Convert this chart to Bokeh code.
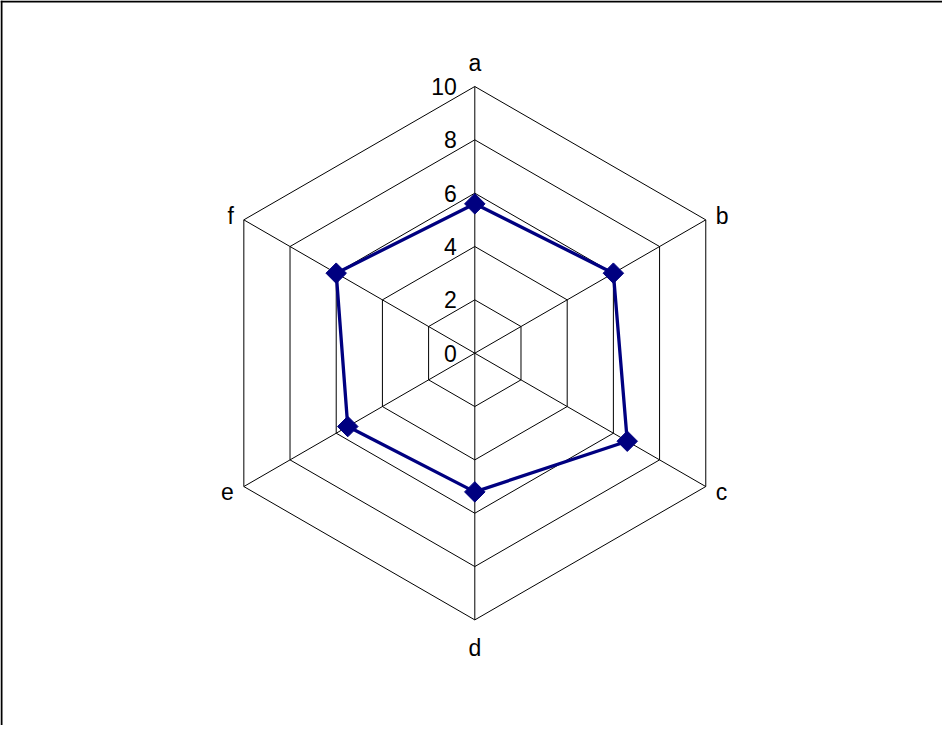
import numpy as np
from bokeh.plotting import figure
from bokeh.models import ColumnDataSource, Span
from bokeh.core.properties import value
from bokeh.embed import file_html
from bokeh.resources import INLINE

# ---- data ----
categories = ["a", "b", "c", "d", "e", "f"]
series_values = [5.6, 6.0, 6.6, 5.2, 5.5, 6.0]
ring_ticks = [0, 2, 4, 6, 8, 10]
tick_labels = ["0", "2", "4", "6", "8", "10"]
max_value = 10

# ---- geometry (angles clockwise from top) ----
n = len(categories)
theta = np.pi / 2 - np.arange(n) * 2 * np.pi / n
cx, sy = np.cos(theta), np.sin(theta)

FONT = value("Liberation Sans")
FS = "23px"
px_per_unit = 26.67
W, H = 942, 725
cx_px, cy_px = 474.3, 352.7
x0 = -cx_px / px_per_unit
y1 = cy_px / px_per_unit
p = figure(width=W, height=H, output_backend="svg", toolbar_location=None,
           x_range=(x0, x0 + W / px_per_unit), y_range=(y1 - H / px_per_unit, y1),
           min_border=0, x_axis_location=None, y_axis_location=None)
p.grid.visible = False
p.outline_line_color = None
p.background_fill_color = "white"
p.border_fill_color = "white"

# page border (only top and left visible, as in the reference)
p.add_layout(Span(location=x0 + 1 / px_per_unit, dimension="height",
                  line_color="black", line_width=2))
p.add_layout(Span(location=y1 - 1 / px_per_unit, dimension="width",
                  line_color="black", line_width=2))

# rings
xs, ys = [], []
for t in ring_ticks[1:]:
    xs.append(list(np.append(cx * t, cx[0] * t)))
    ys.append(list(np.append(sy * t, sy[0] * t)))
p.multi_line(xs, ys, line_color="black", line_width=1)

# spokes
p.multi_line([[0, c * max_value] for c in cx], [[0, s * max_value] for s in sy],
             line_color="black", line_width=1)

# tick labels along top spoke
tsrc = ColumnDataSource(dict(x=[0] * len(ring_ticks), y=ring_ticks, t=tick_labels))
p.text("x", "y", text="t", source=tsrc, text_align="right", text_baseline="middle",
       x_offset=-18, text_font=FONT, text_font_size=FS, text_color="black")

# category labels
lab = ColumnDataSource(dict(
    x=list(cx * max_value), y=list(sy * max_value), t=categories,
    align=["center", "left", "left", "center", "right", "right"],
    xo=[0, 10, 10, 0, -10, -10],
    yo=[-24, -4, 5, 28, 5, -4],
))
p.text("x", "y", text="t", source=lab, text_align="align", text_baseline="middle",
       x_offset="xo", y_offset="yo", text_font=FONT, text_font_size=FS,
       text_color="black")

# series
vx = np.array(series_values) * cx
vy = np.array(series_values) * sy
p.line(list(np.append(vx, vx[0])), list(np.append(vy, vy[0])),
       line_color="#000080", line_width=3.3)
p.scatter(list(vx), list(vy), marker="square", size=14.5, angle=np.pi / 4,
          fill_color="#000080", line_color="#000080")

open("out.html", "w").write(file_html(p, INLINE))
